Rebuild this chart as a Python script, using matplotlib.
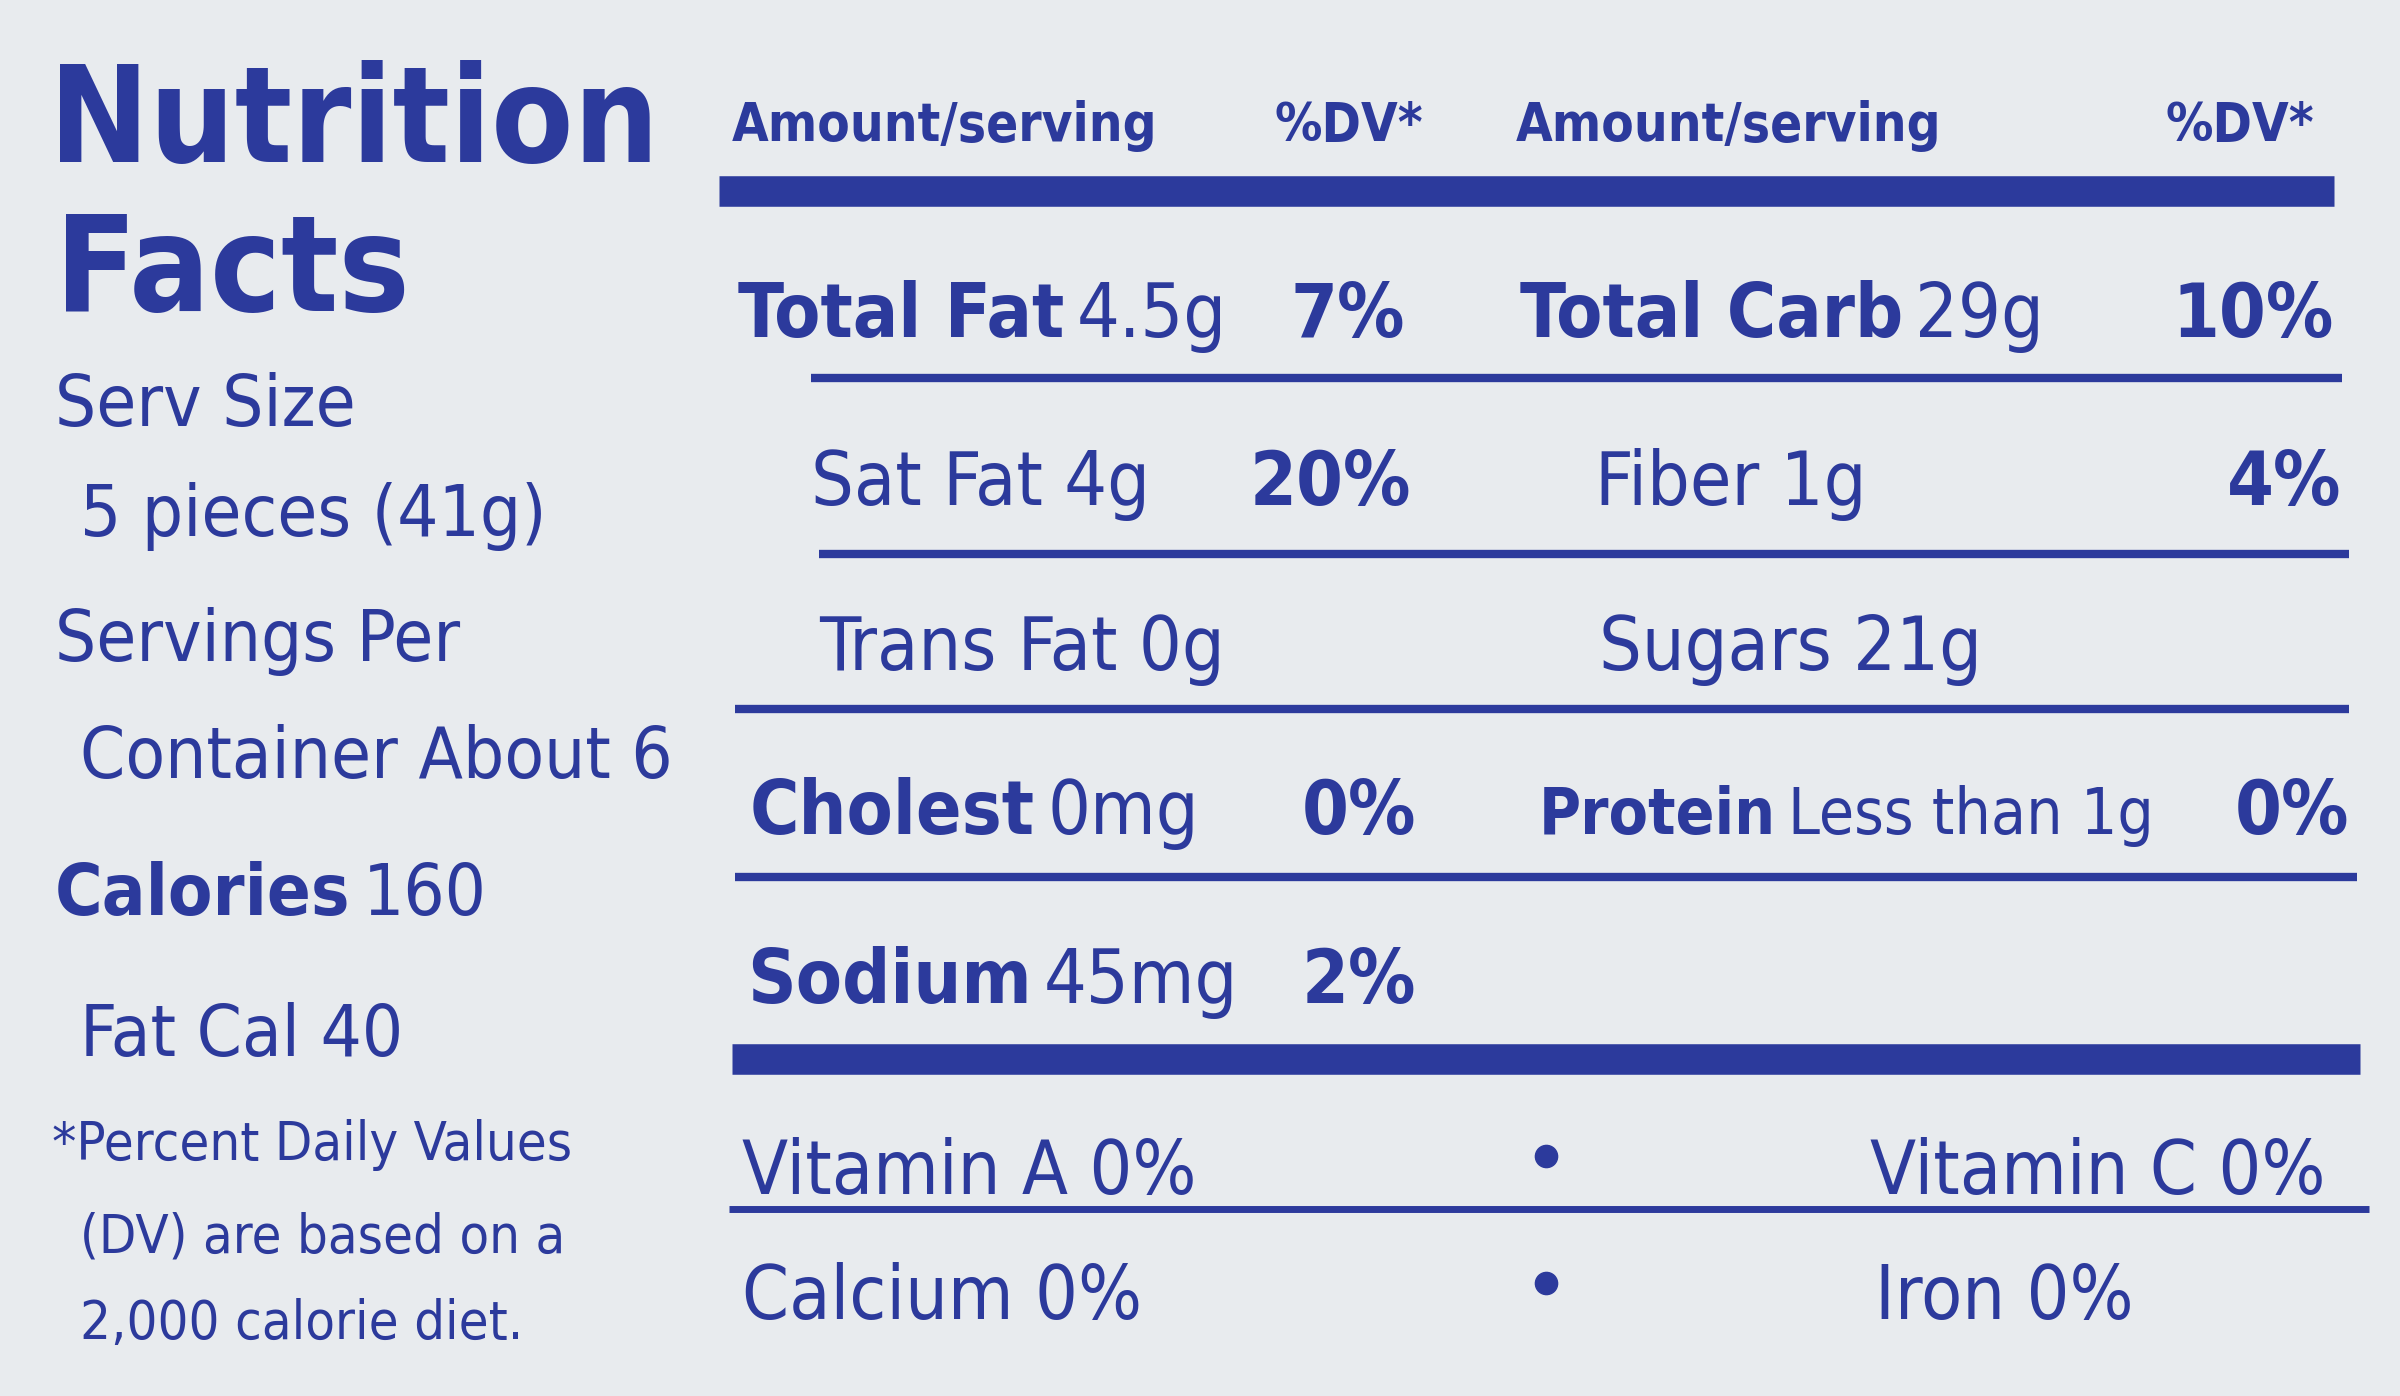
"""Nutrition facts label redrawn with matplotlib text and lines."""
import matplotlib
matplotlib.use("Agg")
import matplotlib.pyplot as plt

BLUE = "#2c3a9c"
BG = "#e8ebee"
FONT = "DejaVu Sans"

# left panel: (text, x, baseline, size, bold)
left_lines = [
    ("Nutrition", 32, 106, 96, True),
    ("Facts", 36, 203, 96, True),
    ("Serv Size", 36, 278, 52, False),
    ("5 pieces (41g)", 52, 350, 52, False),
    ("Servings Per", 36, 432, 52, False),
    ("Container About 6", 52, 508, 52, False),
    ("Fat Cal 40", 52, 690, 52, False),
    ("*Percent Daily Values", 34, 758, 39, False),
    ("(DV) are based on a", 52, 818, 39, False),
    ("2,000 calorie diet.", 52, 875, 39, False),
]
calories = ("Calories", "160", 36, 598)

headers = [("Amount/serving", 478, "left"), ("%DV*", 930, "right"),
           ("Amount/serving", 990, "left"), ("%DV*", 1512, "right")]
header_y = 92

# nutrient rows: (bold label, amount, x, baseline, %DV, %DV right edge, size)
nutrients = [
    ("Total Fat", "4.5g", 482, 220, "7%", 918, 54),
    ("Total Carb", "29g", 993, 220, "10%", 1525, 54),
    ("", "Sat Fat 4g", 530, 330, "20%", 922, 54),
    ("", "Fiber 1g", 1042, 330, "4%", 1530, 54),
    ("", "Trans Fat 0g", 535, 438, "", 0, 54),
    ("", "Sugars 21g", 1045, 438, "", 0, 54),
    ("Cholest", "0mg", 490, 545, "0%", 925, 54),
    ("Protein", "Less than 1g", 1005, 545, "0%", 1535, 46),
    ("Sodium", "45mg", 488, 655, "2%", 925, 54),
]

vitamins = [("Vitamin A 0%", 485, 780), ("Vitamin C 0%", 1222, 780),
            ("Calcium 0%", 485, 862), ("Iron 0%", 1225, 862)]
bullets = [(1010, 755), (1010, 838)]

# rules: (y, x0, x1, width in points)
rules = [(125, 470, 1525, 22), (247, 530, 1530, 6), (362, 535, 1535, 6),
         (463, 480, 1535, 6), (573, 480, 1540, 6), (692, 478, 1542, 22),
         (790, 476, 1548, 5)]

fig = plt.figure(figsize=(24, 13.96), dpi=100, facecolor=BG)
ax = fig.add_axes([0, 0, 1, 1])
ax.set_xlim(0, 1568)
ax.set_ylim(912, 0)
ax.axis("off")
renderer = fig.canvas.get_renderer()


def put(s, x, y, size, bold=False, ha="left"):
    return ax.text(x, y, s, fontsize=size, fontweight="bold" if bold else "normal",
                   fontstretch="condensed", family=FONT, color=BLUE,
                   ha=ha, va="baseline")


def right_end(t):
    bb = t.get_window_extent(renderer).transformed(ax.transData.inverted())
    return max(bb.x0, bb.x1)


for s, x, y, size, bold in left_lines:
    put(s, x, y, size, bold)
t = put(calories[0], calories[2], calories[3], 52, True)
put(calories[1], right_end(t) + 8, calories[3], 52)

for s, x, ha in headers:
    put(s, x, header_y, 38, True, ha)

for label, amount, x, y, dv, dvx, size in nutrients:
    if label:
        t = put(label, x, y, size, True)
        put(amount, right_end(t) + 8, y, size)
    else:
        put(amount, x, y, size)
    if dv:
        put(dv, dvx, y, 54, True, "right")

for s, x, y in vitamins:
    put(s, x, y, 54)
for x, y in bullets:
    ax.plot(x, y, "o", color=BLUE, markersize=16)

for y, x0, x1, lw in rules:
    ax.plot([x0, x1], [y, y], color=BLUE, linewidth=lw, solid_capstyle="butt")

fig.savefig("out.png", dpi=100, facecolor=BG)
